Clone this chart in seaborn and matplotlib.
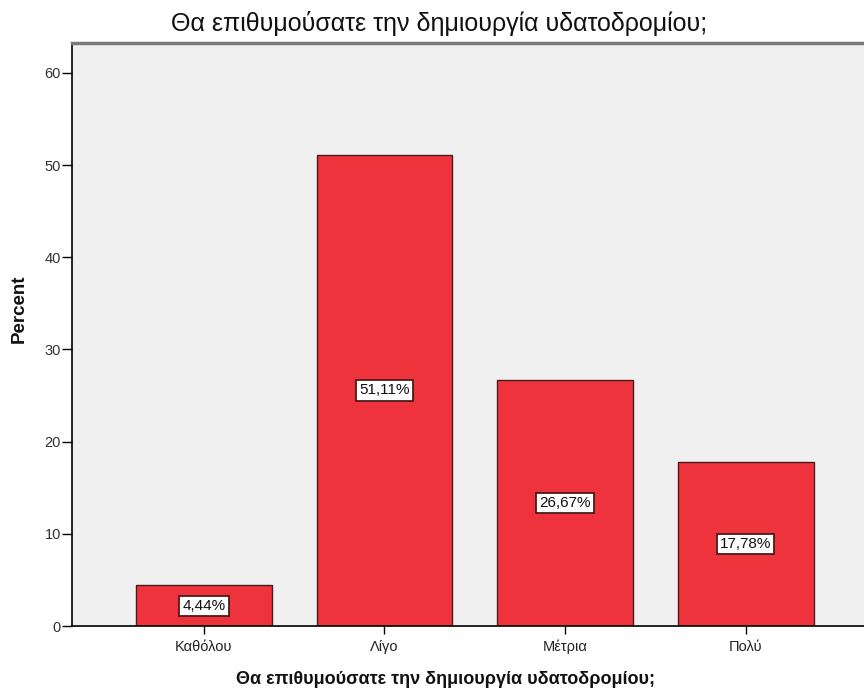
import pandas as pd
import seaborn as sns
import matplotlib.pyplot as plt

# data
categories = ['Καθόλου', 'Λίγο', 'Μέτρια', 'Πολύ']
percents = [4.44, 51.11, 26.67, 17.78]
y_ticks = [0, 10, 20, 30, 40, 50, 60]

title = 'Θα επιθυμούσατε την δημιουργία υδατοδρομίου;'

df = pd.DataFrame({'answer': categories, 'percent': percents})

sns.set_theme(style='white')
plt.rcParams['font.family'] = ['Liberation Sans', 'DejaVu Sans']

fig = plt.figure(figsize=(8.64, 6.91), dpi=100)
ax = fig.add_axes([0.0833, 0.094, 0.9167, 0.8438])
ax.set_facecolor('#f0f0f0')

sns.barplot(data=df, x='answer', y='percent', color='#ef333d', saturation=1,
            width=0.753, edgecolor='#4a1a1a', linewidth=1.0, ax=ax)

labels = [f'{v:.2f}%'.replace('.', ',') for v in percents]
ax.bar_label(ax.containers[0], labels=labels, label_type='center', fontsize=11,
             color='#111111',
             bbox=dict(boxstyle='square,pad=0.2', facecolor='white',
                       edgecolor='#4a1a1a', linewidth=1.3))

ax.set_ylim(0, 63.25)
ax.set_xlim(-0.731, 3.656)
ax.set_yticks(y_ticks)
ax.tick_params(axis='y', direction='out', length=7, width=1, color='black',
               labelsize=10.5, labelcolor='#333333', pad=1, left=True)
ax.tick_params(axis='x', direction='out', length=6, width=1, color='black',
               labelsize=10.5, labelcolor='#222222', pad=4, bottom=True)

for side in ['left', 'bottom']:
    ax.spines[side].set_color('black')
    ax.spines[side].set_linewidth(1.2)
ax.spines['top'].set_color('#7a7a7a')
ax.spines['top'].set_linewidth(2.5)
ax.spines['right'].set_visible(False)

ax.set_xlabel(title, fontsize=13, fontweight='bold', labelpad=12, color='#111111')
ax.set_ylabel('Percent', fontsize=13.5, fontweight='bold', labelpad=12, color='#111111')
ax.xaxis.label.set_x(0.471)
ax.yaxis.label.set_y(0.545)
fig.text(0.508, 1 - 31 / 691, title, fontsize=18, ha='center', va='baseline',
         color='#111111')

fig.savefig('out.png', dpi=100, facecolor='white')
